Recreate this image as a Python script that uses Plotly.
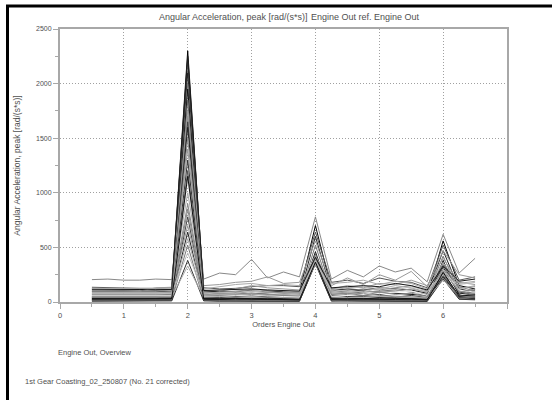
import plotly.graph_objects as go

# Orders (x positions of samples)
orders = [0.5, 0.75, 1.0, 1.25, 1.5, 1.75, 2.0, 2.25, 2.5, 2.75, 3.0, 3.25, 3.5,
          3.75, 4.0, 4.25, 4.5, 4.75, 5.0, 5.25, 5.5, 5.75, 6.0, 6.25, 6.5]

# Peak angular acceleration per measurement [rad/(s*s)]
s01 = [205, 210, 200, 200, 210, 205, 1700, 210, 265, 250, 390, 220, 275, 230, 780, 210, 290, 230, 330, 275, 310, 185, 620, 265, 400]
s02 = [120, 120, 118, 115, 110, 115, 2300, 100, 95, 90, 110, 100, 95, 90, 700, 120, 110, 100, 90, 80, 70, 60, 560, 150, 120]
s03 = [135, 130, 130, 125, 125, 130, 2200, 130, 120, 125, 140, 150, 150, 140, 640, 180, 200, 170, 220, 190, 180, 130, 520, 200, 230]
s04 = [95, 95, 90, 95, 95, 100, 2100, 80, 75, 70, 80, 70, 60, 55, 600, 100, 120, 110, 130, 120, 110, 80, 470, 120, 90]
s05 = [65, 65, 60, 60, 65, 70, 2000, 60, 60, 55, 50, 55, 50, 45, 520, 70, 80, 90, 100, 110, 90, 70, 420, 100, 80]
s06 = [40, 40, 40, 35, 40, 45, 1950, 40, 35, 30, 35, 30, 35, 30, 460, 40, 35, 30, 40, 35, 30, 25, 380, 60, 50]
s07 = [18, 18, 25, 22, 18, 20, 1850, 30, 30, 25, 20, 25, 20, 20, 440, 30, 25, 20, 30, 20, 25, 20, 360, 80, 60]
s08 = [110, 110, 105, 100, 130, 135, 1750, 150, 160, 180, 190, 230, 170, 180, 560, 150, 220, 160, 250, 200, 280, 140, 470, 250, 220]
s09 = [50, 50, 50, 45, 45, 50, 1650, 45, 40, 50, 60, 45, 40, 35, 420, 60, 50, 60, 70, 45, 60, 40, 340, 90, 70]
s10 = [30, 30, 30, 28, 30, 35, 1600, 35, 30, 40, 35, 40, 30, 28, 400, 35, 40, 50, 45, 40, 35, 30, 320, 70, 110]
s11 = [80, 80, 78, 75, 80, 85, 1500, 70, 65, 60, 70, 65, 60, 50, 390, 55, 70, 80, 60, 55, 50, 40, 300, 140, 100]
s12 = [100, 100, 95, 95, 100, 110, 1400, 110, 100, 120, 150, 130, 120, 110, 380, 120, 150, 130, 170, 160, 200, 150, 400, 180, 160]
s13 = [20, 20, 15, 15, 20, 25, 1300, 25, 20, 20, 25, 20, 15, 15, 370, 20, 15, 20, 15, 10, 15, 10, 280, 40, 30]
s14 = [10, 10, 10, 10, 10, 15, 1200, 15, 10, 10, 15, 10, 10, 10, 360, 15, 10, 10, 10, 5, 10, 8, 260, 30, 25]
s15 = [60, 60, 55, 55, 60, 60, 1100, 50, 55, 60, 55, 60, 50, 45, 380, 50, 60, 70, 80, 90, 100, 60, 300, 110, 90]
s16 = [125, 125, 122, 120, 125, 128, 1000, 120, 140, 160, 170, 150, 160, 150, 420, 170, 180, 200, 160, 190, 170, 120, 360, 170, 190]
s17 = [70, 70, 65, 65, 70, 75, 900, 80, 90, 100, 110, 90, 85, 80, 400, 90, 100, 120, 110, 130, 150, 100, 340, 130, 140]
s18 = [45, 45, 45, 40, 45, 45, 850, 55, 60, 70, 80, 70, 60, 60, 370, 70, 80, 60, 90, 70, 80, 50, 300, 90, 120]
s19 = [25, 25, 20, 20, 25, 30, 780, 20, 25, 30, 20, 30, 25, 20, 360, 25, 30, 25, 20, 25, 20, 15, 240, 50, 40]
s20 = [90, 90, 88, 85, 90, 90, 700, 90, 85, 80, 95, 85, 80, 70, 390, 80, 90, 100, 90, 100, 120, 90, 280, 100, 70]
s21 = [35, 35, 35, 30, 30, 35, 640, 30, 25, 35, 30, 25, 30, 25, 360, 30, 25, 35, 25, 30, 25, 20, 230, 45, 35]
s22 = [55, 55, 50, 50, 55, 55, 580, 60, 70, 65, 75, 60, 70, 60, 380, 110, 130, 140, 120, 150, 130, 90, 260, 120, 150]
s23 = [15, 15, 12, 12, 15, 18, 520, 15, 12, 15, 10, 12, 10, 10, 355, 12, 15, 10, 12, 8, 10, 10, 220, 35, 45]
s24 = [75, 75, 72, 70, 75, 80, 450, 75, 80, 90, 100, 110, 100, 90, 370, 100, 110, 90, 130, 110, 140, 110, 250, 160, 180]
s25 = [8, 8, 8, 8, 8, 10, 380, 10, 8, 8, 10, 8, 8, 6, 350, 8, 10, 8, 6, 8, 6, 5, 210, 25, 20]
s26 = [45, 45, 42, 40, 45, 48, 330, 45, 50, 45, 40, 45, 40, 35, 350, 45, 40, 45, 50, 45, 40, 35, 200, 60, 55]
s27 = [28, 28, 25, 25, 28, 30, 1150, 28, 25, 30, 28, 25, 22, 20, 365, 25, 28, 30, 28, 25, 30, 20, 270, 55, 65]
s28 = [112, 112, 110, 108, 112, 115, 2250, 105, 110, 115, 120, 110, 105, 100, 410, 130, 140, 150, 140, 170, 150, 110, 330, 190, 210]

series = [s01, s02, s03, s04, s05, s06, s07, s08, s09, s10, s11, s12, s13, s14,
          s15, s16, s17, s18, s19, s20, s21, s22, s23, s24, s25, s26, s27, s28]

line_colors = ["#888888", "#000000", "#555555", "#222222", "#777777", "#111111", "#666666",
               "#999999", "#444444", "#222222", "#888888", "#999999", "#333333", "#555555",
               "#f2f2f2", "#aaaaaa", "#888888", "#888888", "#444444", "#999999", "#222222",
               "#aaaaaa", "#777777", "#bbbbbb", "#333333", "#aaaaaa", "#111111", "#1a1a1a"]

x_ticks = [0, 1, 2, 3, 4, 5, 6, 7]
x_tick_labels = ["0", "1", "2", "3", "4", "5", "6", ""]
y_ticks = [0, 500, 1000, 1500, 2000, 2500]
y_tick_labels = ["0", "500", "1000", "1500", "2000", "2500"]

title_left = "Angular Acceleration, peak [rad/(s*s)]"
title_right = "Engine Out ref. Engine Out"
y_title = "Angular Acceleration, peak [rad/(s*s)]"
x_title = "Orders Engine Out"
note1 = "Engine Out, Overview"
note2 = "1st Gear Coasting_02_250807 (No. 21 corrected)"

fig = go.Figure()
for vals, col in zip(series, line_colors):
    fig.add_trace(go.Scatter(x=orders, y=vals, mode="lines",
                             line=dict(color=col, width=1), showlegend=False,
                             hoverinfo="skip"))

FONT = "Liberation Sans, Arial, sans-serif"
TXT = "#505050"
L, R, T, B = 60, 46, 29, 98
W, H = 553, 400
pw, ph = W - L - R, H - T - B


def px(xp):
    return (xp - L) / pw


def py(yp):
    return (H - B - yp) / ph


GRID = "#a0a0a0"
AX = "#a8a8a8"
fig.update_layout(
    width=W, height=H,
    margin=dict(l=L, r=R, t=T, b=B, autoexpand=False),
    paper_bgcolor="white", plot_bgcolor="white",
    font=dict(family=FONT, size=7.5, color=TXT),
    xaxis=dict(range=[0, 7], tickvals=x_ticks, ticktext=x_tick_labels,
               showgrid=True, gridcolor=GRID, griddash="1px,2px", gridwidth=1,
               showline=True, linecolor=AX, linewidth=2, mirror=True,
               ticks="outside", ticklen=5, tickcolor=AX, tickwidth=1,
               minor=dict(dtick=0.5, tick0=0, ticks="outside", ticklen=3,
                          tickcolor=AX, showgrid=False),
               zeroline=False, tickfont=dict(size=7.5, color=TXT),
               automargin=False,
               title=dict(text=x_title, font=dict(size=7.5, color=TXT), standoff=1)),
    yaxis=dict(range=[0, 2500], tickvals=y_ticks, ticktext=y_tick_labels,
               showgrid=True, gridcolor=GRID, griddash="1px,2px", gridwidth=1,
               showline=True, linecolor=AX, linewidth=2, mirror=True,
               ticks="outside", ticklen=5, tickcolor=AX, tickwidth=1,
               minor=dict(dtick=250, tick0=0, ticks="outside", ticklen=3,
                          tickcolor=AX, showgrid=False),
               zeroline=False, tickfont=dict(size=7, color=TXT),
               automargin=False,
               title=dict(text=y_title, font=dict(size=8.5, color=TXT), standoff=14)),
)

ann = [
    dict(x=px(157), y=py(17), text=title_left, xanchor="left", size=9),
    dict(x=px(309), y=py(17), text=title_right, xanchor="left", size=9),
    dict(x=px(56), y=py(352), text=note1, xanchor="left", size=7.5),
    dict(x=px(23), y=py(381), text=note2, xanchor="left", size=7.5),
]
for a in ann:
    size = a.pop("size")
    fig.add_annotation(xref="paper", yref="paper", yanchor="middle",
                       showarrow=False, font=dict(size=size, color=TXT, family=FONT), **a)

# outer black frame (left and top)
fig.add_shape(type="line", xref="paper", yref="paper",
              x0=px(7.5), x1=px(7.5), y0=py(5), y1=py(400),
              line=dict(color="black", width=3))
fig.add_shape(type="line", xref="paper", yref="paper",
              x0=px(6), x1=px(552), y0=py(6), y1=py(6),
              line=dict(color="black", width=3))

fig.write_html("out.html", config={"displayModeBar": False},
               post_script="document.body.style.margin='0';")
